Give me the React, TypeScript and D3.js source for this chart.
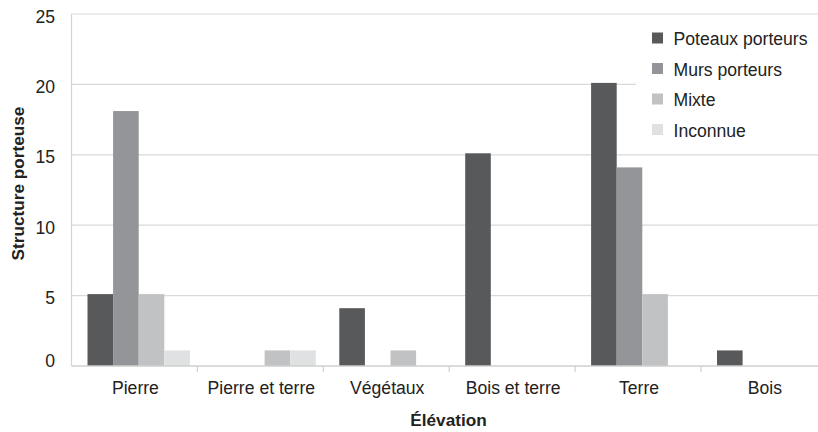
import React from "react";
import * as d3 from "d3";

const categories = ["Pierre", "Pierre et terre", "Végétaux", "Bois et terre", "Terre", "Bois"];
const seriesNames = ["Poteaux porteurs", "Murs porteurs", "Mixte", "Inconnue"];
const poteaux = [5, 0, 4, 15, 20, 1];
const murs = [18, 0, 0, 0, 14, 0];
const mixte = [5, 1, 1, 0, 5, 0];
const inconnue = [1, 1, 0, 0, 0, 0];
const yTicks = [0, 5, 10, 15, 20, 25];
const colors = ["#58595b", "#939598", "#c1c2c4", "#e0e1e2"];

const W = 818;
const H = 432;
const left = 71.5;
const top = 14;
const bottom = 366;
const font = "'Liberation Sans', Arial, sans-serif";

export default function App() {
  const series = [poteaux, murs, mixte, inconnue];
  const x0 = d3.scaleBand<string>().domain(categories).range([left, left + 6 * 125.9]).padding(0);
  const x1 = d3.scaleBand<string>().domain(seriesNames).range([16, 16 + 4 * 25.6]).padding(0);
  const y = d3.scaleLinear().domain([0, 25]).range([bottom, top]);
  const textColor = "#222";

  return (
    <svg width={W} height={H} style={{ position: "absolute", left: 0, top: 0, background: "#fff" }} fontFamily={font}>
      {yTicks.filter((t) => t > 0).map((t) => (
        <line key={t} x1={left} x2={W} y1={y(t)} y2={y(t)} stroke="#d9d9d9" strokeWidth={1.2} />
      ))}
      <line x1={left} x2={left} y1={top} y2={bottom} stroke="#d4d4d4" strokeWidth={1.2} />
      {categories.map((c, ci) => (
        <g key={c} transform={`translate(${x0(c)},0)`}>
          {seriesNames.map((s, si) => {
            const v = series[si][ci];
            if (!v) return null;
            return (
              <rect key={s} x={x1(s)} width={x1.bandwidth()} y={y(v) - 1.5} height={y(0) - y(v) + 1.5} fill={colors[si]} />
            );
          })}
        </g>
      ))}
      <line x1={left} x2={W} y1={bottom} y2={bottom} stroke="#cfcfcf" strokeWidth={1.5} />
      {categories.slice(1).map((c) => (
        <line key={c} x1={x0(c)} x2={x0(c)} y1={bottom} y2={bottom + 6} stroke="#cfcfcf" strokeWidth={1.2} />
      ))}
      {categories.map((c) => (
        <text key={c} x={(x0(c) as number) + x0.bandwidth() / 2 + 1} y={394} textAnchor="middle" fontSize={17.6} fill={textColor}>
          {c}
        </text>
      ))}
      {yTicks.map((t) => (
        <text key={t} x={55} y={t === 0 ? y(t) - 5 : y(t) + 2.5} textAnchor="end" dominantBaseline="central" fontSize={17.6} fill={textColor}>
          {t}
        </text>
      ))}
      <text transform="translate(17.5,183.5) rotate(-90)" textAnchor="middle" dominantBaseline="central" fontSize={17.2} fontWeight="bold" fill={textColor}>
        Structure porteuse
      </text>
      <text x={448.5} y={426} textAnchor="middle" fontSize={17.2} fontWeight="bold" fill={textColor}>
        Élévation
      </text>
      <rect x={636} y={19} width={W - 636} height={130} fill="#fff" />
      {seriesNames.map((s, i) => (
        <g key={s} transform={`translate(652,${38 + i * 30.5})`}>
          <rect x={0} y={-5.5} width={11} height={11} fill={colors[i]} />
          <text x={21.5} y={1} dominantBaseline="central" fontSize={17.6} fill={textColor}>
            {s}
          </text>
        </g>
      ))}
    </svg>
  );
}
